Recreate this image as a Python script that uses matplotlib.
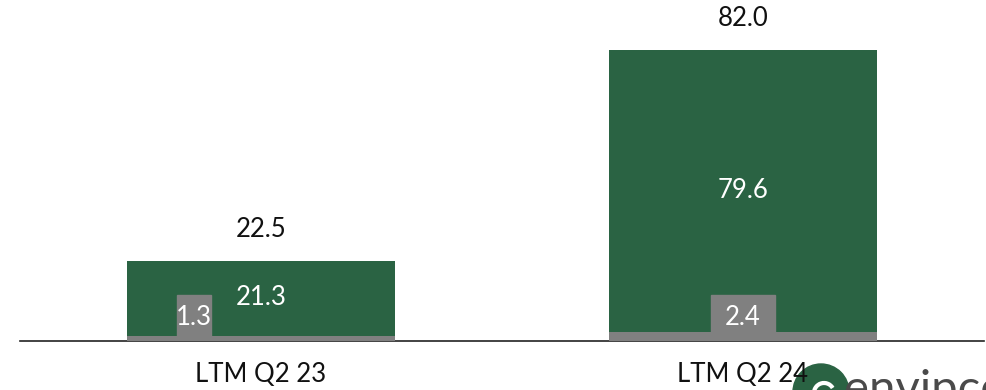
import matplotlib.pyplot as plt
from matplotlib.patches import Rectangle, Circle, Arc

plt.rcParams['font.family'] = ['Lato', 'DejaVu Sans']

categories = ['LTM Q2 23', 'LTM Q2 24']
base_values = [1.3, 2.4]      # grey segment
main_values = [21.3, 79.6]    # green segment
totals = [22.5, 82.0]

green = '#2a6343'
grey = '#808080'
fs = 18.5

fig = plt.figure(figsize=(9.87, 3.9), dpi=100)
ax = fig.add_axes([20 / 987, 49 / 390, 964 / 987, 341 / 390])

x = range(len(categories))
width = 0.558
ax.bar(x, base_values, width, color=grey, zorder=2)
ax.bar(x, main_values, width, bottom=base_values, color=green, zorder=2)

# grey tag boxes holding the base values
tag_offsets = [-0.14, 0.0]
tag_widths = [0.0705, 0.133]
tag_height = 13.0
for i, v in enumerate(base_values):
    cx = i + tag_offsets[i]
    ax.add_patch(Rectangle((cx - tag_widths[i] / 2, 0), tag_widths[i], tag_height,
                           color=grey, zorder=3))
    ax.text(cx, tag_height * 0.52, f'{v:.1f}', ha='center', va='center',
            color='white', fontsize=fs, zorder=4)

for i, (b, m, t) in enumerate(zip(base_values, main_values, totals)):
    ax.text(i, b + m / 2 + 0.3, f'{m:.1f}', ha='center', va='center',
            color='white', fontsize=fs, zorder=4)
    ax.annotate(f'{t:.1f}', (i, t), xytext=(0, 23), textcoords='offset points',
                ha='center', va='center', fontsize=fs, color='#111111')

ax.set_xlim(-0.5, 1.5)
ax.set_ylim(0, 96.1)
ax.set_xticks(list(x))
ax.set_xticklabels(categories, fontsize=fs, color='#111111')
ax.tick_params(axis='x', length=0, pad=15)
ax.set_yticks([])
for s in ['top', 'right', 'left']:
    ax.spines[s].set_visible(False)
ax.spines['bottom'].set_color('#222222')
ax.spines['bottom'].set_linewidth(1.2)
ax.spines['bottom'].set_zorder(1)

# company logo in the lower right corner, drawn in pixel units
logo = fig.add_axes([0, 0, 1, 1], zorder=-1)
logo.set_xlim(0, 987)
logo.set_ylim(390, 0)
logo.set_aspect('equal')
logo.axis('off')
logo.add_patch(Circle((821, 392), 28, color=green))
logo.add_patch(Arc((824, 393), 20, 20, theta1=20, theta2=330,
                   color='white', linewidth=3))
logo.plot([814, 834], [393, 393], color='white', linewidth=3)
logo.text(844, 403, 'envipco', fontsize=34, color='#4a4a4a',
          ha='left', va='baseline')

fig.savefig('out.png', dpi=100)
